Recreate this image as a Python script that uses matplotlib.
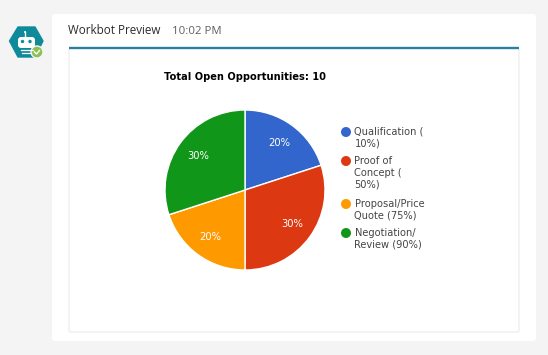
import matplotlib

matplotlib.use("Agg")
import matplotlib.pyplot as plt
from matplotlib.patches import Circle, FancyBboxPatch, Polygon, Rectangle

W, H = 548, 355

stages = ["Qualification (\n10%)", "Proof of\nConcept (\n50%)", "Proposal/Price\nQuote (75%)", "Negotiation/\nReview (90%)"]
shares = [20, 30, 20, 30]
colors = ["#3366cc", "#dc3912", "#ff9900", "#109618"]
legend_rows = [132, 161, 204, 233]

plt.rcParams['font.family'] = ['Noto Sans', 'DejaVu Sans']

fig = plt.figure(figsize=(W / 100, H / 100), dpi=100, facecolor="#f4f4f4")

# background axes in pixel coords, for the card and the icon
bg = fig.add_axes([0, 0, 1, 1])
bg.set_xlim(0, W)
bg.set_ylim(H, 0)
bg.axis("off")

bg.add_patch(FancyBboxPatch((52, 14), 484, 327, boxstyle="round,pad=0,rounding_size=3", fc="white", ec="none"))
bg.add_patch(FancyBboxPatch((69, 48), 450, 284, boxstyle="round,pad=0,rounding_size=2", fc="white", ec="#f1f1f1", lw=1.2))
bg.plot([69, 519], [47.5, 47.5], color="#2b7ea6", lw=1.7, solid_capstyle="butt")

bg.text(68, 31, "Workbot Preview", fontsize=8.35, color="#2b2b2b", va="center", family="Open Sans")
bg.text(172, 31, "10:02 PM", fontsize=8.2, color="#5f5f5f", va="center", family="Open Sans")

# bot icon
bg.add_patch(Polygon([[9.5, 41], [18, 27], [35, 27], [43, 41], [35, 57], [18, 57]], fc="#0f8a9a", ec="#0f8a9a", lw=1, joinstyle="round"))
bg.add_patch(FancyBboxPatch((18, 37), 17, 11, boxstyle="round,pad=0,rounding_size=3", fc="white", ec="none"))
bg.add_patch(Circle((22.5, 41.5), 1.7, fc="#0f8a9a", ec="none"))
bg.add_patch(Circle((30, 41.5), 1.7, fc="#0f8a9a", ec="none"))
bg.plot([25, 25], [32, 37], color="white", lw=1)
bg.add_patch(Circle((25, 32), 1, fc="white", ec="none"))
bg.plot([21, 33], [50, 50], color="white", lw=0.9)
bg.plot([22, 31], [52.5, 52.5], color="white", lw=0.9)
bg.add_patch(Circle((37, 52), 6, fc="#8cc152", ec="#f4f4f4", lw=1))
bg.plot([34.5, 36.5, 39.5], [52, 54, 50.5], color="white", lw=1)

bg.text(245, 77, "Total Open Opportunities: 10", fontsize=7.1, fontweight="bold", color="black", ha="center", va="center", family="DejaVu Sans")

# pie in its own axes
ax = fig.add_axes([165 / W, 1 - 270 / H, 160 / W, 160 / H])
wedges, _, autotexts = ax.pie(shares, colors=colors, startangle=90, counterclock=False, radius=1,
                              autopct="%d%%", pctdistance=0.73,
                              wedgeprops={"edgecolor": "white", "linewidth": 1},
                              textprops={"fontsize": 7.2, "color": "white", "family": "DejaVu Sans"})
ax.set_xlim(-1, 1)
ax.set_ylim(-1, 1)

# legend, marker sits on the first line of each label
for label, color, y in zip(stages, colors, legend_rows):
    bg.add_patch(Circle((346, y), 5, fc=color, ec="none"))
    bg.text(354.5, y - 5, label, fontsize=7.15, color="#444444", va="top", linespacing=1.24, family="DejaVu Sans")

fig.savefig("out.png", dpi=100, facecolor=fig.get_facecolor())
